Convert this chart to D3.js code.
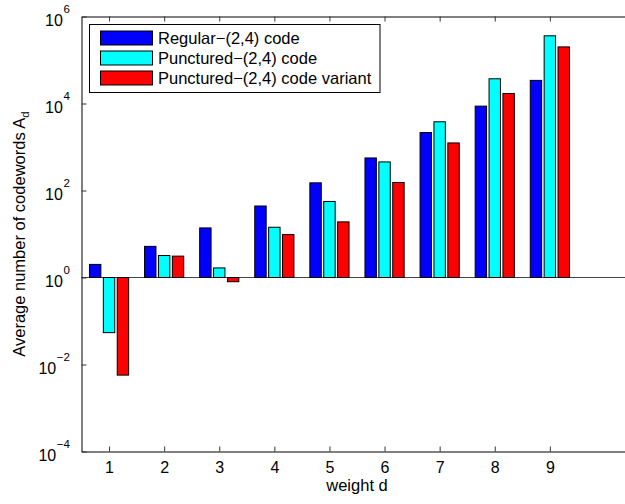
<!DOCTYPE html>
<html>
<head>
<meta charset="utf-8">
<script src="https://cdn.jsdelivr.net/npm/d3@7/dist/d3.min.js"></script>
<style>
  html, body { margin: 0; padding: 0; background: #fff; }
  svg { display: block; font-family: "Liberation Sans", Arial, Helvetica, sans-serif; }
</style>
</head>
<body>
<svg id="chart" width="625" height="504"></svg>
<script>
// Weight spectrum: average number of codewords of each weight d
const weights = [1, 2, 3, 4, 5, 6, 7, 8, 9];
const regular = [2.0, 5.2, 13.8, 44, 150, 560, 2150, 8700, 34000];
const punctured = [0.054, 3.2, 1.66, 14.3, 56, 454, 3800, 37000, 360000];
const puncturedVariant = [0.0057, 3.1, 0.8, 9.7, 19, 153, 1240, 17000, 200000];
const seriesNames = ["Regular\u2212(2,4) code", "Punctured\u2212(2,4) code", "Punctured\u2212(2,4) code variant"];
const seriesColors = ["#0000ff", "#00ffff", "#ff0000"];
const yTickValues = [1e-4, 1e-2, 1e0, 1e2, 1e4, 1e6];
const yTickExponents = ["\u22124", "\u22122", "0", "2", "4", "6"];

const series = [regular, punctured, puncturedVariant];

const svg = d3.select("#chart");
const plotLeft = 81.5, plotRight = 632.5, plotTop = 16.5, plotBottom = 451.5;

const x = d3.scaleLinear().domain([0.5, 10.5]).range([plotLeft, plotRight]);
const y = d3.scaleLog().domain([1e-4, 1e6]).range([plotBottom, plotTop]);

const unit = x(1) - x(0);
const barStep = 0.252 * unit;
const barWidth = 0.207 * unit;

// Baseline at 10^0
svg.append("line")
  .attr("x1", plotLeft).attr("x2", plotRight)
  .attr("y1", y(1)).attr("y2", y(1))
  .attr("stroke", "#444").attr("stroke-width", 1);

// Grouped bars, growing from the baseline at 1
series.forEach((vals, s) => {
  svg.append("g").selectAll("rect")
    .data(weights.map((w, i) => ({ w, v: vals[i] })))
    .join("rect")
    .attr("x", d => x(d.w) + (s - 1) * barStep - barWidth / 2)
    .attr("width", barWidth)
    .attr("y", d => Math.min(y(d.v), y(1)))
    .attr("height", d => Math.abs(y(d.v) - y(1)))
    .attr("fill", seriesColors[s])
    .attr("stroke", "#000")
    .attr("stroke-width", 1);
});

const fontSize = 16;

// Bottom axis
svg.append("g")
  .attr("transform", `translate(0,${plotBottom})`)
  .call(d3.axisBottom(x).tickValues(weights).tickFormat(d3.format("d"))
    .tickSizeInner(-5).tickSizeOuter(0).tickPadding(10));

// Top axis (ticks only)
svg.append("g")
  .attr("transform", `translate(0,${plotTop})`)
  .call(d3.axisTop(x).tickValues(weights).tickFormat(() => "")
    .tickSizeInner(-5).tickSizeOuter(0));

// Left axis with power-of-ten labels
const gy = svg.append("g")
  .attr("transform", `translate(${plotLeft},0)`)
  .call(d3.axisLeft(y).tickValues(yTickValues).tickFormat(() => "")
    .tickSizeInner(-5).tickSizeOuter(0).tickPadding(11.7));

// Right axis (ticks only)
svg.append("g")
  .attr("transform", `translate(${plotRight},0)`)
  .call(d3.axisRight(y).tickValues(yTickValues).tickFormat(() => "")
    .tickSizeInner(-5).tickSizeOuter(0));

svg.selectAll(".domain").attr("stroke", "#000").attr("stroke-width", 1);
svg.selectAll(".tick line").attr("stroke", "#333").attr("stroke-width", 1);
svg.selectAll(".tick text")
  .attr("font-family", "Liberation Sans, Arial, Helvetica, sans-serif")
  .attr("font-size", fontSize)
  .attr("fill", "#000");

gy.selectAll(".tick text").each(function(d, i) {
  const t = d3.select(this).attr("dy", "0.55em");
  t.append("tspan").text("10");
  t.append("tspan")
    .attr("font-size", 11.5)
    .attr("dx", 0.5)
    .attr("dy", -12.5)
    .text(yTickExponents[i]);
});

// Axis titles
svg.append("text")
  .attr("x", (plotLeft + plotRight) / 2)
  .attr("y", 491)
  .attr("text-anchor", "middle")
  .attr("font-size", 16.5)
  .attr("fill", "#000")
  .text("weight d");

const yl = svg.append("text")
  .attr("transform", `translate(25,${(plotTop + plotBottom) / 2}) rotate(-90)`)
  .attr("text-anchor", "middle")
  .attr("font-size", 16.5)
  .attr("fill", "#000");
yl.append("tspan").text("Average number of codewords A");
yl.append("tspan").attr("font-size", 11.5).attr("dy", 4).text("d");

// Legend
const legend = svg.append("g");
legend.append("rect")
  .attr("x", 89.5).attr("y", 24.5)
  .attr("width", 290.5).attr("height", 68)
  .attr("fill", "#fff").attr("stroke", "#000").attr("stroke-width", 1);
seriesNames.forEach((name, i) => {
  legend.append("rect")
    .attr("x", 100.5).attr("y", 31 + i * 20)
    .attr("width", 52).attr("height", 14)
    .attr("fill", seriesColors[i]).attr("stroke", "#000").attr("stroke-width", 1);
  legend.append("text")
    .attr("x", 158).attr("y", 44.3 + i * 20)
    .attr("font-size", 16.5)
    .attr("fill", "#000")
    .text(name);
});
</script>
</body>
</html>
